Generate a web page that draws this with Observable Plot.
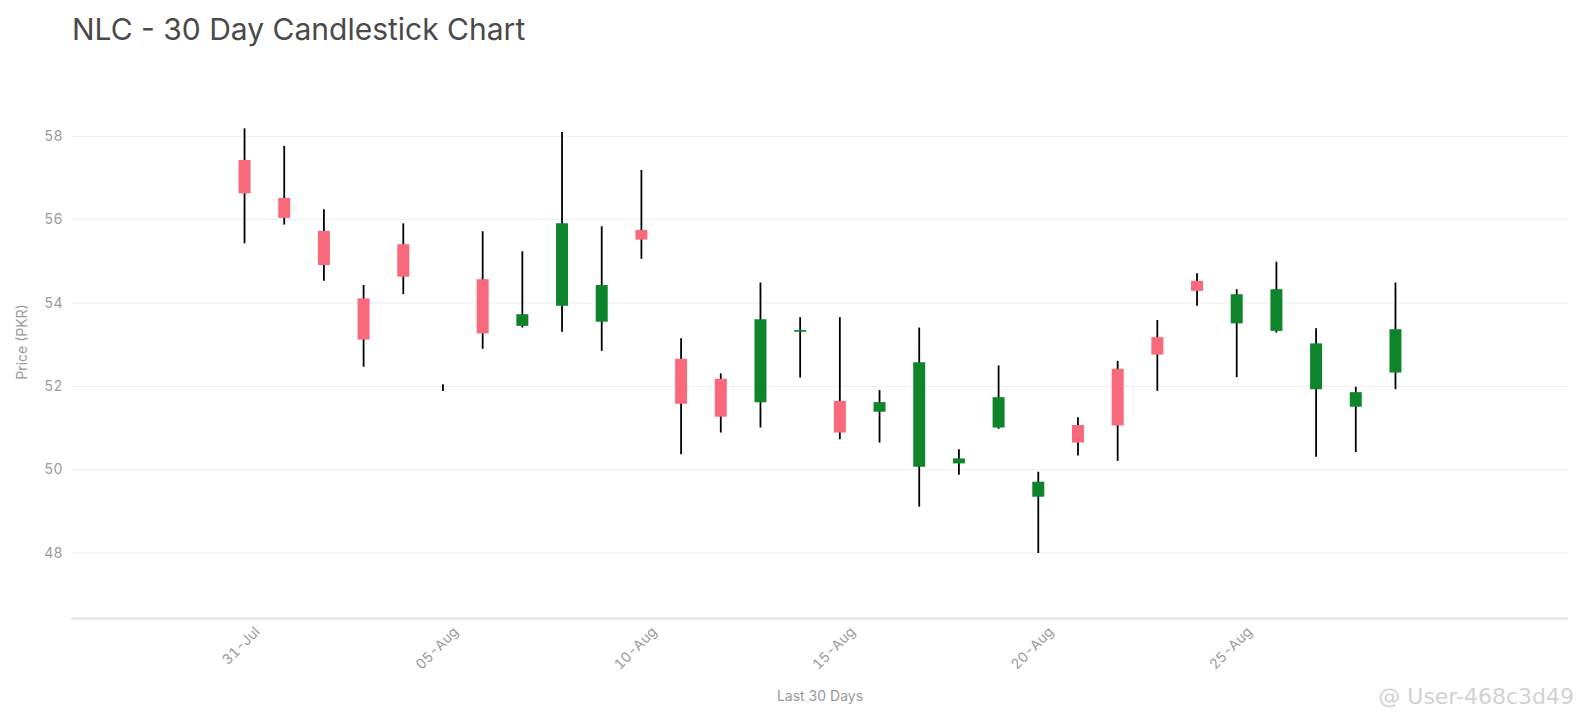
<!DOCTYPE html>
<html>
<head>
<meta charset="utf-8">
<script src="https://cdn.jsdelivr.net/npm/d3@7"></script>
<script src="https://cdn.jsdelivr.net/npm/@observablehq/plot@0.6"></script>
<style>
  html, body { margin: 0; padding: 0; background: #fff; }
  body { width: 1584px; height: 720px; position: relative; overflow: hidden; font-family: Inter, "Noto Sans", sans-serif; }
  #title { height: 56px; position: relative; }
  #title span { position: absolute; left: 72px; top: 11px; font-size: 30px; color: #4a4a4a; font-weight: 400; white-space: nowrap; }
  #wm { position: absolute; right: 10px; top: 684px; font-size: 22px; color: #d2d2d2; font-family: "DejaVu Sans", sans-serif; white-space: nowrap; }
  svg text { fill: #9a9a9a; }
</style>
</head>
<body>
<div id="title"><span>NLC - 30 Day Candlestick Chart</span></div>
<div id="chart"></div>
<div id="wm">@ User-468c3d49</div>
<script>
const dates = ["2024-07-31","2024-08-01","2024-08-02","2024-08-03","2024-08-04","2024-08-05","2024-08-06","2024-08-07","2024-08-08","2024-08-09","2024-08-10","2024-08-11","2024-08-12","2024-08-13","2024-08-14","2024-08-15","2024-08-16","2024-08-17","2024-08-18","2024-08-19","2024-08-20","2024-08-21","2024-08-22","2024-08-23","2024-08-24","2024-08-25","2024-08-26","2024-08-27","2024-08-28","2024-08-29"];
const open  = [57.42,56.51,55.72,54.10,55.40,51.96,54.56,53.44,53.92,53.54,55.74,52.65,52.17,51.61,53.30,51.64,51.38,50.06,50.14,51.00,49.34,51.06,52.41,53.17,54.52,53.50,53.32,51.92,51.50,52.32];
const high  = [58.18,57.76,56.24,54.42,55.90,52.04,55.71,55.23,58.09,55.83,57.18,53.14,52.30,54.48,53.65,53.65,51.90,53.40,50.48,52.49,49.94,51.25,52.60,53.58,54.70,54.32,54.98,53.38,51.98,54.48];
const low   = [55.42,55.87,54.52,52.46,54.20,51.88,52.89,53.40,53.30,52.84,55.05,50.36,50.88,51.00,52.20,50.72,50.64,49.10,49.87,50.97,47.99,50.33,50.20,51.88,53.92,52.21,53.28,50.30,50.41,51.92];
const close = [56.62,56.03,54.90,53.11,54.62,51.96,53.26,53.72,55.90,54.42,55.51,51.57,51.26,53.60,53.34,50.88,51.61,52.57,50.26,51.73,49.70,50.64,51.05,52.75,54.28,54.20,54.32,53.02,51.85,53.36];
const yTicks = [48, 50, 52, 54, 56, 58];
const xTickDates = ["2024-07-31","2024-08-05","2024-08-10","2024-08-15","2024-08-20","2024-08-25"];
const yDomain = [46.43, 59.70];
const padDays = 4.36;

const data = dates.map((d, i) => ({
  date: new Date(d + "T00:00:00Z"),
  open: open[i], high: high[i], low: low[i], close: close[i]
}));
const day = 864e5;
const xDomain = [new Date(data[0].date.getTime() - padDays * day), new Date(data[data.length - 1].date.getTime() + padDays * day)];
const fmt = d3.utcFormat("%d-%b");

const chart = Plot.plot({
  width: 1584,
  height: 664,
  marginLeft: 71,
  marginRight: 16,
  marginTop: 9,
  marginBottom: 102,
  style: { fontFamily: "Inter, 'Noto Sans', sans-serif", background: "#fff" },
  x: { type: "utc", domain: xDomain },
  y: { domain: yDomain },
  marks: [
    Plot.gridY(yTicks, { stroke: "#eeeeee", strokeOpacity: 1, strokeWidth: 1 }),
    Plot.ruleY([yDomain[0]], { stroke: "#e3e3e3", strokeWidth: 2 }),
    Plot.axisY(yTicks, {
      tickSize: 0, tickPadding: 9, fontSize: 14,
      label: "Price (PKR)", labelAnchor: "center", labelArrow: "none", labelOffset: 54
    }),
    Plot.axisX(xTickDates.map(d => new Date(d + "T00:00:00Z")), {
      tickSize: 0, tickPadding: 11, fontSize: 14, tickRotate: -45, tickFormat: fmt, dx: 13,
      label: "Last 30 Days", labelAnchor: "center", labelArrow: "none", labelOffset: 82
    }),
    Plot.ruleX(data, { x: "date", y1: "low", y2: "high", stroke: "#000", strokeWidth: 1.8 }),
    Plot.ruleX(data, { filter: d => d.close >= d.open, x: "date", y1: "open", y2: "close", stroke: "#0f852b", strokeWidth: 12 }),
    Plot.ruleX(data, { filter: d => d.close < d.open, x: "date", y1: "open", y2: "close", stroke: "#f86a7b", strokeWidth: 12 })
  ]
});
document.getElementById("chart").appendChild(chart);
</script>
</body>
</html>
